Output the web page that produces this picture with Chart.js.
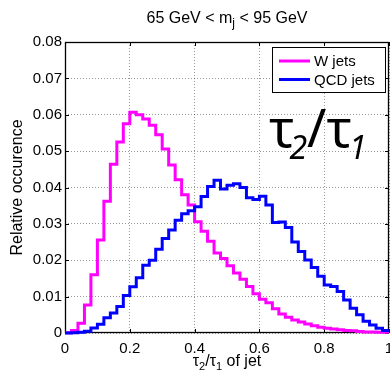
<!DOCTYPE html>
<html>
<head>
<meta charset="utf-8">
<script src="https://cdn.jsdelivr.net/npm/chart.js@4.4.1/dist/chart.umd.min.js"></script>
<style>
  html, body { margin: 0; padding: 0; background: #fff; }
  #wrap { width: 390px; height: 370px; }
</style>
</head>
<body>
<div id="wrap"><canvas id="histChart" width="390" height="370"></canvas></div>
<script>
// tau2/tau1 distributions, 50 bins of 0.02 from 0 to 1
const binWidth = 0.02;

const wJets = [
  0.0001, 0.0007, 0.0027, 0.0077, 0.0160, 0.0256, 0.0362, 0.0464, 0.0525, 0.0575,
  0.0607, 0.0600, 0.0588, 0.0571, 0.0545, 0.0506, 0.0462, 0.0421, 0.0380, 0.0352,
  0.0306, 0.0280, 0.0252, 0.0220, 0.0205, 0.0185, 0.0165, 0.0148, 0.0128, 0.0108,
  0.0093, 0.0083, 0.0067, 0.0052, 0.0043, 0.0036, 0.0030, 0.0025, 0.0020, 0.0016,
  0.0013, 0.0011, 0.0009, 0.0007, 0.0006, 0.0004, 0.0003, 0.0003, 0.0002, 0.0002
];

const qcdJets = [
  0.0000, 0.0001, 0.0002, 0.0005, 0.0014, 0.0024, 0.0042, 0.0055, 0.0073, 0.0103,
  0.0127, 0.0152, 0.0186, 0.0200, 0.0230, 0.0260, 0.0283, 0.0310, 0.0328, 0.0336,
  0.0347, 0.0375, 0.0403, 0.0420, 0.0396, 0.0406, 0.0410, 0.0400, 0.0372, 0.0367,
  0.0376, 0.0352, 0.0304, 0.0305, 0.0290, 0.0250, 0.0224, 0.0201, 0.0180, 0.0156,
  0.0132, 0.0128, 0.0114, 0.0091, 0.0068, 0.0050, 0.0032, 0.0022, 0.0013, 0.0007
];

const seriesNames = ['W jets', 'QCD jets'];
const seriesColors = ['#ff00ff', '#0000ff'];

const xTicks = [0, 0.2, 0.4, 0.6, 0.8, 1];
const yTicks = [0, 0.01, 0.02, 0.03, 0.04, 0.05, 0.06, 0.07, 0.08];

const fontFamily = "'Liberation Sans', Arial, Helvetica, sans-serif";

// stairs: one point per left bin edge, plus the closing edge at x = 1
function toSteps(values) {
  const pts = values.map((v, i) => ({ x: i * binWidth, y: v }));
  pts.push({ x: values.length * binWidth, y: values[values.length - 1] });
  return pts;
}

// draws a row of text pieces (for sub-scripts), centred or left aligned
function drawPieces(ctx, pieces, x, baseline, centred) {
  let total = 0;
  pieces.forEach(p => {
    ctx.font = p.font;
    p.w = ctx.measureText(p.text).width + (p.dx || 0);
    total += p.w;
  });
  let cx = centred ? x - total / 2 : x;
  ctx.textAlign = 'left';
  ctx.textBaseline = 'alphabetic';
  pieces.forEach(p => {
    ctx.font = p.font;
    ctx.fillText(p.text, cx + (p.dx || 0), baseline + (p.dy || 0));
    cx += p.w;
  });
}

const framePlugin = {
  id: 'frame',
  beforeDatasetsDraw(chart) {
    const { ctx, chartArea: a, scales } = chart;
    ctx.save();
    ctx.strokeStyle = '#000';
    ctx.lineWidth = 1;
    ctx.setLineDash([]);
    // inward ticks on all four sides
    ctx.beginPath();
    xTicks.forEach(v => {
      const px = Math.round(scales.x.getPixelForValue(v)) + 0.5;
      ctx.moveTo(px, a.bottom); ctx.lineTo(px, a.bottom - 4);
      ctx.moveTo(px, a.top); ctx.lineTo(px, a.top + 4);
    });
    yTicks.forEach(v => {
      const py = Math.round(scales.y.getPixelForValue(v)) + 0.5;
      ctx.moveTo(a.left, py); ctx.lineTo(a.left + 4, py);
      ctx.moveTo(a.right, py); ctx.lineTo(a.right - 4, py);
    });
    ctx.stroke();
    ctx.lineWidth = 1.3;
    ctx.strokeRect(a.left + 0.5, a.top + 0.5, a.right - a.left - 1, a.bottom - a.top - 1);
    ctx.restore();
  },
  afterDraw(chart) {
    const { ctx, chartArea: a } = chart;
    ctx.save();
    ctx.fillStyle = '#000';

    // title with m_j
    drawPieces(ctx, [
      { text: '65 GeV < m', font: '16px ' + fontFamily },
      { text: 'j', font: '12px ' + fontFamily, dy: 4 },
      { text: ' < 95 GeV', font: '16px ' + fontFamily }
    ], (a.left + a.right) / 2, 23, true);

    // x axis title
    drawPieces(ctx, [
      { text: 'τ', font: '16px ' + fontFamily },
      { text: '2', font: '11px ' + fontFamily, dy: 4 },
      { text: '/', font: '16px ' + fontFamily },
      { text: 'τ', font: '16px ' + fontFamily },
      { text: '1', font: '11px ' + fontFamily, dy: 4 },
      { text: ' of jet', font: '16px ' + fontFamily }
    ], (a.left + a.right) / 2, 366, true);

    // y axis title
    ctx.save();
    ctx.translate(22, (a.top + a.bottom) / 2);
    ctx.rotate(-Math.PI / 2);
    ctx.font = '16px ' + fontFamily;
    ctx.textAlign = 'center';
    ctx.textBaseline = 'alphabetic';
    ctx.fillText('Relative occurence', 0, 0);
    ctx.restore();

    // large variable name inside the plot
    const big = "52px 'Noto Sans', sans-serif";
    const small = "italic 32px 'Noto Sans', sans-serif";
    drawPieces(ctx, [
      { text: 'τ', font: big },
      { text: '2', font: small, dy: 12, dx: -5 },
      { text: '/', font: big },
      { text: 'τ', font: big },
      { text: '1', font: small, dy: 12, dx: -3 }
    ], 269, 147, false);

    // legend box
    const lx = a.right - 117, ly = a.top + 5, lw = 113, lh = 45;
    ctx.fillStyle = '#fff';
    ctx.fillRect(lx, ly, lw, lh);
    ctx.strokeStyle = '#000';
    ctx.lineWidth = 1;
    ctx.strokeRect(lx + 0.5, ly + 0.5, lw, lh);
    seriesNames.forEach((name, i) => {
      const rowY = ly + 14 + i * 18.5;
      ctx.strokeStyle = seriesColors[i];
      ctx.lineWidth = 3;
      ctx.beginPath();
      ctx.moveTo(lx + 7, rowY);
      ctx.lineTo(lx + 38, rowY);
      ctx.stroke();
      ctx.fillStyle = '#000';
      ctx.font = '15px ' + fontFamily;
      ctx.textAlign = 'left';
      ctx.textBaseline = 'middle';
      ctx.fillText(name, lx + 42, rowY + 1);
    });
    ctx.restore();
  }
};

const gridDots = { color: 'rgba(0,0,0,0.4)', lineWidth: 1, drawTicks: false };

new Chart(document.getElementById('histChart'), {
  type: 'line',
  data: {
    datasets: [
      {
        label: seriesNames[0], data: toSteps(wJets), borderColor: seriesColors[0],
        borderWidth: 3, stepped: true, pointRadius: 0, fill: false, order: 2, clip: false
      },
      {
        label: seriesNames[1], data: toSteps(qcdJets), borderColor: seriesColors[1],
        borderWidth: 3, stepped: true, pointRadius: 0, fill: false, order: 1, clip: false
      }
    ]
  },
  options: {
    responsive: false,
    animation: false,
    devicePixelRatio: 1,
    layout: { padding: { top: 42, right: 1, left: 0, bottom: 0 } },
    plugins: { legend: { display: false }, tooltip: { enabled: false }, title: { display: false } },
    scales: {
      x: {
        type: 'linear', min: 0, max: 1,
        afterBuildTicks: s => { s.ticks = xTicks.map(v => ({ value: v })); },
        afterFit: s => { s.height = 37; s.paddingLeft = 0; s.paddingRight = 0; },
        ticks: {
          color: '#000', padding: 7, maxRotation: 0,
          font: { family: fontFamily, size: 15 },
          callback: v => (v === 0 || v === 1) ? String(v) : v.toFixed(1)
        },
        grid: gridDots,
        border: { display: false, dash: [1, 2] }
      },
      y: {
        type: 'linear', min: 0, max: 0.08,
        afterBuildTicks: s => { s.ticks = yTicks.map(v => ({ value: v })); },
        afterFit: s => { s.width = 65; s.paddingTop = 0; s.paddingBottom = 0; },
        ticks: {
          color: '#000', padding: 3,
          font: { family: fontFamily, size: 15 },
          callback: v => v === 0 ? '0' : v.toFixed(2)
        },
        grid: gridDots,
        border: { display: false, dash: [1, 2] }
      }
    }
  },
  plugins: [framePlugin]
});
</script>
</body>
</html>
